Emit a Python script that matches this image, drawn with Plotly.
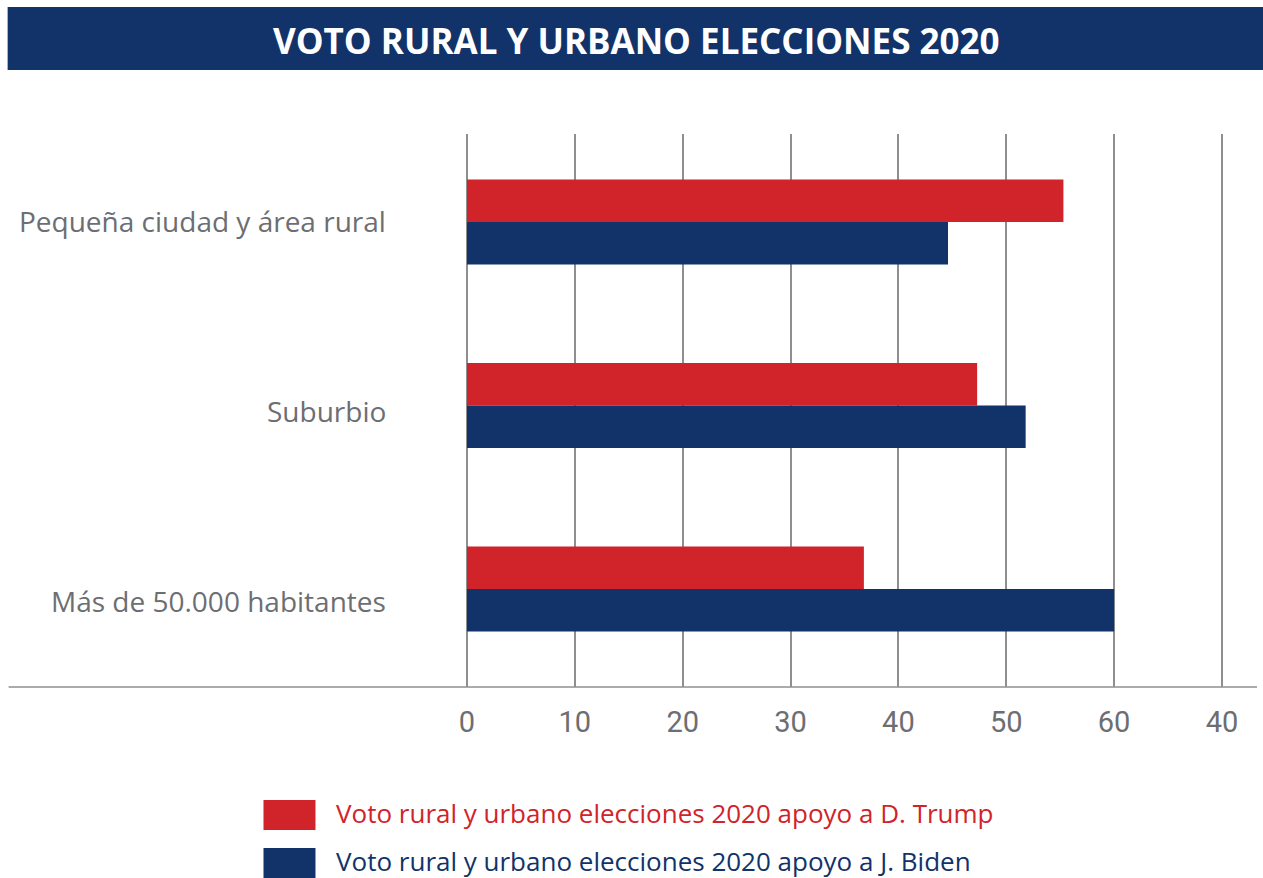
import plotly.graph_objects as go

categories = ["Pequeña ciudad y área rural", "Suburbio", "Más de 50.000 habitantes"]
trump = [55.3, 47.3, 36.8]
biden = [44.6, 51.8, 60.0]
series_names = ["Voto rural y urbano elecciones 2020 apoyo a D. Trump",
                "Voto rural y urbano elecciones 2020 apoyo a J. Biden"]
tick_vals = [0, 10, 20, 30, 40, 50, 60, 70]
tick_text = ["0", "10", "20", "30", "40", "50", "60", "40"]
title = "VOTO RURAL Y URBANO ELECCIONES 2020"

RED = "#d1232a"
NAVY = "#11336a"
GRAY = "#6d6e71"
GRID = "#8f8f8f"
FONT = "Open Sans"
NARROW = "Liberation Sans Narrow, Roboto"

W, H = 1263, 878
L, R, T, B = 466.6, 1257, 134, 687

def px(x):
    return (x - L) / (R - L)

def py(y):
    return (B - y) / (B - T)

fig = go.Figure()
fig.add_trace(go.Bar(y=categories, x=trump, orientation="h", name=series_names[0],
                     marker=dict(color=RED, line=dict(width=0))))
fig.add_trace(go.Bar(y=categories, x=biden, orientation="h", name=series_names[1],
                     marker=dict(color=NAVY, line=dict(width=0))))

shapes = [
    dict(type="rect", xref="paper", yref="paper", x0=px(7), x1=px(1263), y0=py(70), y1=py(7),
         fillcolor=NAVY, line=dict(width=0), layer="below"),
    dict(type="line", xref="paper", yref="paper", x0=px(8), x1=px(1257), y0=0, y1=0,
         line=dict(color=GRID, width=1.5)),
]
annotations = [
    dict(text="<b>" + title + "</b>", xref="paper", yref="paper", x=px(636), y=py(40),
         xanchor="center", yanchor="middle", showarrow=False,
         font=dict(family=FONT, size=35, color="white")),
]
# category labels (right-aligned, left of the plot)
label_y = [221, 411, 601]
for cat, ly in zip(categories, label_y):
    annotations.append(dict(text=cat, xref="paper", yref="paper", x=px(388), y=py(ly),
                            xanchor="right", yanchor="middle", showarrow=False,
                            font=dict(family=FONT, size=28, color=GRAY)))
legend_colors = [RED, NAVY]
legend_y = [815, 863]
text_y = [813, 861]
for name, col, yy, ty in zip(series_names, legend_colors, legend_y, text_y):
    shapes.append(dict(type="rect", xref="paper", yref="paper", x0=px(263), x1=px(315),
                       y0=py(yy + 15), y1=py(yy - 15), fillcolor=col, line=dict(width=0)))
    annotations.append(dict(text=name, xref="paper", yref="paper", x=px(334), y=py(ty),
                            xanchor="left", yanchor="middle", showarrow=False,
                            font=dict(family=FONT, size=26, color=col)))

fig.update_layout(
    width=W, height=H,
    margin=dict(l=L, r=W - R, t=T, b=H - B, pad=0),
    paper_bgcolor="white", plot_bgcolor="white",
    barmode="group", bargap=0.537, bargroupgap=0,
    showlegend=False,
    shapes=shapes, annotations=annotations,
    font=dict(family=FONT, color=GRAY),
)
fig.update_xaxes(range=[0, 73.25], tickvals=tick_vals, ticktext=tick_text,
                 showgrid=True, gridcolor=GRID, gridwidth=1.5,
                 zeroline=True, zerolinecolor=GRID, zerolinewidth=1.5,
                 showline=False, ticks="", ticklabelstandoff=15,
                 tickfont=dict(family=NARROW, size=29, color=GRAY))
fig.update_yaxes(categoryorder="array", categoryarray=categories,
                 range=[2.534, -0.48], showgrid=False, zeroline=False, showline=False,
                 ticks="", showticklabels=False)

fig.write_html("out.html", config={"displayModeBar": False},
               post_script="document.body.style.margin='0';")
